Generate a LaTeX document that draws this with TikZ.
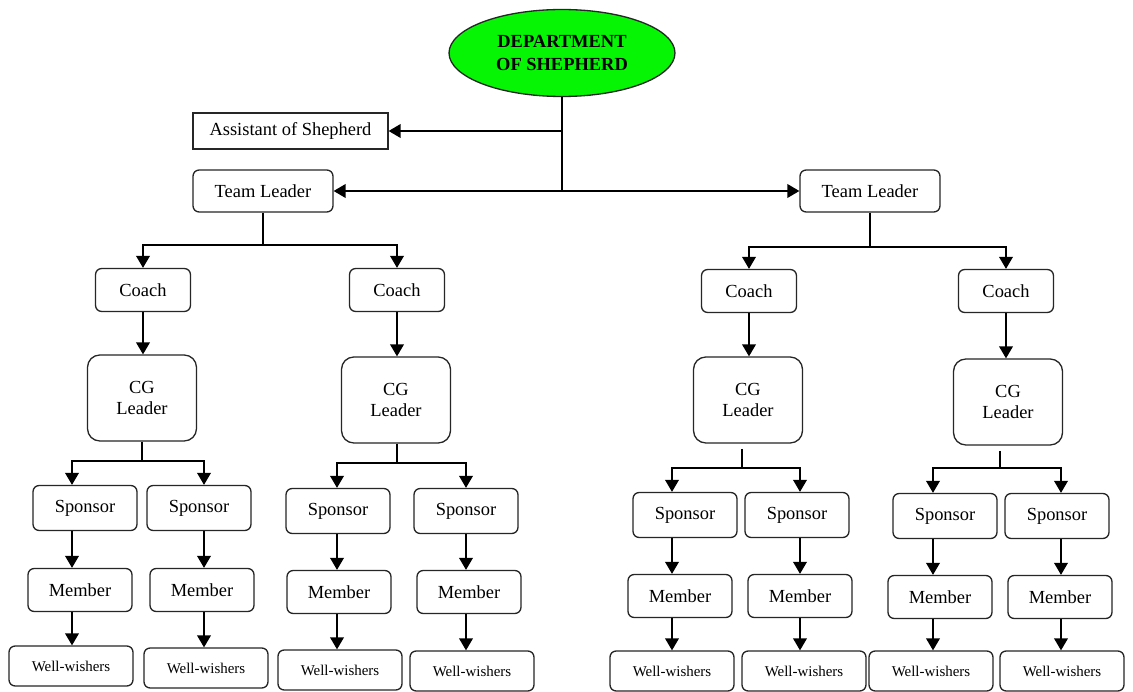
\documentclass[tikz,border=0pt]{standalone}
\usepackage{fontspec}
\setmainfont{Liberation Serif}
\usetikzlibrary{arrows.meta, shapes.geometric}

\definecolor{deptgreen}{RGB}{5,245,5}

\begin{document}
\begin{tikzpicture}[x=0.02cm, y=-0.02cm, line width=0.75pt,
    >={Triangle[length=6.8pt,width=7.8pt]}]
\tikzset{
    box/.style={draw=black!85, rounded corners=3.5pt, inner sep=0pt,
      align=center, font=\fontsize{10.5}{12.5}\selectfont},
    leaderbox/.style={box, minimum width=2.8cm, minimum height=0.84cm},
    coachbox/.style={box, minimum width=1.9cm, minimum height=0.86cm},
    cgbox/.style={box, rounded corners=7pt, minimum width=2.18cm, minimum height=1.72cm},
    sponsorbox/.style={box, minimum width=2.08cm, minimum height=0.9cm},
    memberbox/.style={box, minimum width=2.08cm, minimum height=0.86cm},
    wellbox/.style={box, minimum width=2.48cm, minimum height=0.8cm,
      font=\fontsize{8.5}{10}\selectfont},
  }
\path[use as bounding box, fill=white] (0,0) rectangle (1133,692);

% top of the chart
\node (dept) [ellipse, draw=black!85, fill=deptgreen, minimum width=4.52cm,
  minimum height=1.74cm, inner sep=0pt, align=center,
  font=\bfseries\fontsize{10.5}{13.5}\selectfont] at (562,53) {DEPARTMENT\\OF SHEPHERD};
\node (asst) [box, rounded corners=0pt, minimum width=3.9cm, minimum height=0.72cm] at (290.5,131) {Assistant of Shepherd};
\node (tlL) [leaderbox] at (263,191) {Team Leader};
\node (tlR) [leaderbox] at (870,191) {Team Leader};

\coordinate (j0) at (562,191);
\draw (j0 |- dept.south) -- (j0);
\draw[->] (j0 |- asst.east) -- (asst.east);
\draw[->] (j0) -- (tlL.east);
\draw[->] (j0) -- (tlR.west);

% coaches and CG leaders
\node (coach1) [coachbox] at (143,290) {Coach};
\node (coach2) [coachbox] at (397,290) {Coach};
\node (coach3) [coachbox] at (749,291) {Coach};
\node (coach4) [coachbox] at (1006,291) {Coach};
\node (cg1) [cgbox] at (142,398) {CG\\Leader};
\node (cg2) [cgbox] at (396,400) {CG\\Leader};
\node (cg3) [cgbox] at (748,400) {CG\\Leader};
\node (cg4) [cgbox] at (1008,402) {CG\\Leader};

\coordinate (tf1) at (263,245);
\coordinate (tf2) at (870,247);
\draw (tlL.south) -- (tf1);
\draw[->] (tf1) -| (coach1.north);
\draw[->] (tf1) -| (coach2.north);
\draw (tlR.south) -- (tf2);
\draw[->] (tf2) -| (coach3.north);
\draw[->] (tf2) -| (coach4.north);
\draw[->] (coach1.south) -- (coach1.south |- cg1.north);
\draw[->] (coach2.south) -- (coach2.south |- cg2.north);
\draw[->] (coach3.south) -- (coach3.south |- cg3.north);
\draw[->] (coach4.south) -- (coach4.south |- cg4.north);

% sponsors, members, well-wishers
\node (sp1a) [sponsorbox] at (85,508) {Sponsor};
\node (sp1b) [sponsorbox] at (199,508) {Sponsor};
\node (sp2a) [sponsorbox] at (338,511) {Sponsor};
\node (sp2b) [sponsorbox] at (466,511) {Sponsor};
\node (sp3a) [sponsorbox] at (685,515) {Sponsor};
\node (sp3b) [sponsorbox] at (797,515) {Sponsor};
\node (sp4a) [sponsorbox] at (945,516) {Sponsor};
\node (sp4b) [sponsorbox] at (1057,516) {Sponsor};

\node (mb1a) [memberbox] at (80,590) {Member};
\node (mb1b) [memberbox] at (202,590) {Member};
\node (mb2a) [memberbox] at (339,592) {Member};
\node (mb2b) [memberbox] at (469,592) {Member};
\node (mb3a) [memberbox] at (680,596) {Member};
\node (mb3b) [memberbox] at (800,596) {Member};
\node (mb4a) [memberbox] at (940,597) {Member};
\node (mb4b) [memberbox] at (1060,597) {Member};

\node (ww1a) [wellbox] at (71,666) {Well-wishers};
\node (ww1b) [wellbox] at (206,668) {Well-wishers};
\node (ww2a) [wellbox] at (340,670) {Well-wishers};
\node (ww2b) [wellbox] at (472,671) {Well-wishers};
\node (ww3a) [wellbox] at (672,671) {Well-wishers};
\node (ww3b) [wellbox] at (804,671) {Well-wishers};
\node (ww4a) [wellbox] at (931,671) {Well-wishers};
\node (ww4b) [wellbox] at (1062,671) {Well-wishers};

% group under first CG leader
\coordinate (f1) at (142,461);
\coordinate (c1a) at (72,461);
\coordinate (c1b) at (204,461);
\draw (f1 |- cg1.south) -- (f1);
\draw[->] (f1) -| (c1a |- sp1a.north);
\draw[->] (f1) -| (c1b |- sp1b.north);
\draw[->] (c1a |- sp1a.south) -- (c1a |- mb1a.north);
\draw[->] (c1b |- sp1b.south) -- (c1b |- mb1b.north);
\draw[->] (c1a |- mb1a.south) -- (c1a |- ww1a.north);
\draw[->] (c1b |- mb1b.south) -- (c1b |- ww1b.north);

% group under second CG leader
\coordinate (f2) at (397,463);
\coordinate (c2a) at (337,463);
\coordinate (c2b) at (466,463);
\draw (f2 |- cg2.south) -- (f2);
\draw[->] (f2) -| (c2a |- sp2a.north);
\draw[->] (f2) -| (c2b |- sp2b.north);
\draw[->] (c2a |- sp2a.south) -- (c2a |- mb2a.north);
\draw[->] (c2b |- sp2b.south) -- (c2b |- mb2b.north);
\draw[->] (c2a |- mb2a.south) -- (c2a |- ww2a.north);
\draw[->] (c2b |- mb2b.south) -- (c2b |- ww2b.north);

% group under third CG leader
\coordinate (f3) at (742,468);
\coordinate (c3a) at (672,468);
\coordinate (c3b) at (800,468);
\draw ([yshift=-3pt]f3 |- cg3.south) -- (f3);
\draw[->] (f3) -| (c3a |- sp3a.north);
\draw[->] (f3) -| (c3b |- sp3b.north);
\draw[->] (c3a |- sp3a.south) -- (c3a |- mb3a.north);
\draw[->] (c3b |- sp3b.south) -- (c3b |- mb3b.north);
\draw[->] (c3a |- mb3a.south) -- (c3a |- ww3a.north);
\draw[->] (c3b |- mb3b.south) -- (c3b |- ww3b.north);

% group under fourth CG leader
\coordinate (f4) at (1000,468);
\coordinate (c4a) at (933,468);
\coordinate (c4b) at (1061,468);
\draw ([yshift=-3pt]f4 |- cg4.south) -- (f4);
\draw[->] (f4) -| (c4a |- sp4a.north);
\draw[->] (f4) -| (c4b |- sp4b.north);
\draw[->] (c4a |- sp4a.south) -- (c4a |- mb4a.north);
\draw[->] (c4b |- sp4b.south) -- (c4b |- mb4b.north);
\draw[->] (c4a |- mb4a.south) -- (c4a |- ww4a.north);
\draw[->] (c4b |- mb4b.south) -- (c4b |- ww4b.north);
\end{tikzpicture}
\end{document}
